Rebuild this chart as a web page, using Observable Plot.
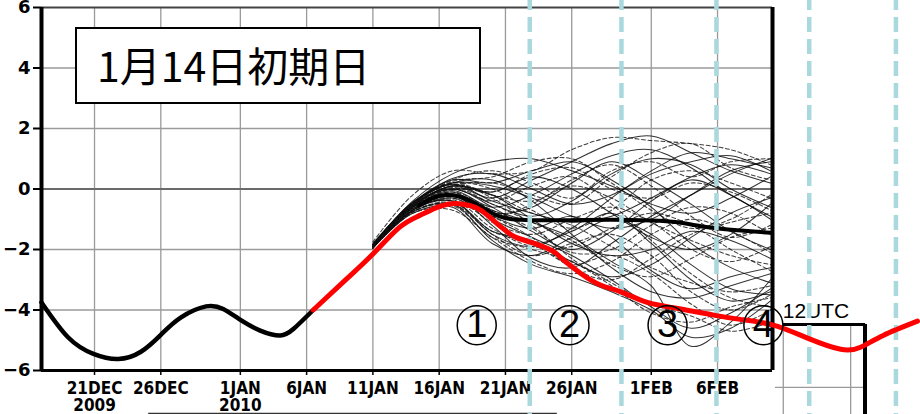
<!DOCTYPE html>
<html><head><meta charset="utf-8">
<script src="https://cdn.jsdelivr.net/npm/d3@7"></script>
<script src="https://cdn.jsdelivr.net/npm/@observablehq/plot@0.6"></script>
<style>
html,body{margin:0;padding:0;background:#fff;}
#wrap{position:relative;width:920px;height:414px;overflow:hidden;background:#fff;}
#wrap svg{position:absolute;left:0;top:0;}
#title{position:absolute;z-index:2;left:75px;top:27px;width:406px;height:77px;box-sizing:border-box;border:2px solid #000;background:#fff;
 font-family:"Noto Sans CJK JP","Noto Sans CJK SC",sans-serif;font-size:41px;line-height:71px;padding-left:20px;color:#000;white-space:nowrap;}
</style></head>
<body><div id="wrap"><div id="title">1月14日初期日</div></div>
<script>
// ---- data ----
const xTickDates = ["2009-12-21","2009-12-26","2010-01-01","2010-01-06","2010-01-11","2010-01-16","2010-01-21","2010-01-26","2010-02-01","2010-02-06"];
const xTickLabels = ["21DEC\n2009","26DEC","1JAN\n2010","6JAN","11JAN","16JAN","21JAN","26JAN","1FEB","6FEB"];
const yTicks = [-6,-4,-2,0,2,4,6];

const historyDates = ["2009-12-17T00:00","2009-12-19T00:00","2009-12-20T22:00","2009-12-22T19:00","2009-12-24T12:00","2009-12-26T00:00","2009-12-27T12:00","2009-12-29T10:00","2009-12-30T17:00","2009-12-31T22:00","2010-01-02T12:00","2010-01-04T00:00","2010-01-05T00:00","2010-01-06T12:00"];
const historyValues = [-3.75,-4.9,-5.45,-5.62,-5.38,-4.82,-4.25,-3.88,-3.97,-4.3,-4.68,-4.84,-4.63,-4.0];

const observedDates = ["2010-01-06T12:00","2010-01-09T00:00","2010-01-11T00:00","2010-01-13T00:00","2010-01-14T12:00","2010-01-16T00:00","2010-01-17T07:00","2010-01-18T07:00","2010-01-19T05:00","2010-01-20T17:00","2010-01-21T19:00","2010-01-23T00:00","2010-01-24T12:00","2010-01-25T05:00","2010-01-26T17:00","2010-01-28T05:00","2010-01-29T17:00","2010-01-31T17:00","2010-02-03T00:00","2010-02-05T17:00","2010-02-07T17:00","2010-02-10T05:00","2010-02-12T19:00","2010-02-15T07:00","2010-02-16T19:00","2010-02-18T12:00","2010-02-21T02:00"];
const observedValues = [-4.0,-2.98,-2.15,-1.27,-0.88,-0.58,-0.48,-0.55,-0.72,-1.27,-1.6,-1.77,-2.03,-2.28,-2.8,-3.18,-3.4,-3.75,-3.95,-4.17,-4.31,-4.5,-4.93,-5.3,-5.23,-4.84,-4.37];

const meanDates = ["2010-01-14T12:00","2010-01-15T12:00","2010-01-16T12:00","2010-01-17T12:00","2010-01-18T12:00","2010-01-19T12:00","2010-01-20T12:00","2010-01-21T12:00","2010-01-23","2010-01-26","2010-01-29","2010-02-01","2010-02-03","2010-02-05","2010-02-07","2010-02-10"];
const meanValues = [-0.55,-0.3,-0.2,-0.25,-0.42,-0.68,-0.9,-1.0,-1.03,-1.03,-1.02,-1.04,-1.1,-1.25,-1.35,-1.45];

const memberDates = ["2010-01-11","2010-01-14","2010-01-17","2010-01-20","2010-01-23","2010-01-26","2010-01-29","2010-02-01","2010-02-04","2010-02-07","2010-02-10"];
const membersSolid = [
 [-1.85,-0.40, 0.50, 0.90, 1.00, 0.60, 0.10,-0.50,-0.80,-0.30, 0.40],
 [-1.90,-0.60, 0.10,-0.30, 0.30, 0.90, 1.50, 1.75, 1.20, 0.60, 0.20],
 [-1.95,-0.70,-0.20,-1.20,-2.30,-2.60,-1.80,-0.90,-0.20, 0.50, 1.00],
 [-1.90,-0.50, 0.20, 0.30,-0.40,-1.50,-2.60,-3.40,-3.60,-3.20,-2.80],
 [-1.80,-0.45, 0.30, 0.20, 0.60, 0.90, 0.30,-0.60,-1.80,-2.60,-3.10],
 [-1.90,-0.65,-0.40,-1.50,-1.90,-1.30,-0.30, 0.60, 1.20, 1.00, 0.70],
 [-1.95,-0.75,-0.50,-1.70,-2.50,-2.90,-3.40,-4.00,-4.90,-4.60,-3.70],
 [-1.85,-0.50, 0.00,-0.50,-0.90,-0.40, 0.50, 1.00, 0.80, 0.00,-0.60],
 [-1.90,-0.55, 0.10,-0.20,-1.00,-1.80,-2.20,-2.00,-1.40,-1.70,-2.30],
 [-1.90,-0.60,-0.10,-0.80,-0.60, 0.20, 0.90, 0.30,-0.50,-1.40,-2.00],
 [-1.95,-0.70,-0.30,-1.00,-1.60,-2.20,-3.00,-3.90,-4.60,-4.10,-3.30],
 [-1.85,-0.45, 0.20, 0.10,-0.30,-0.90,-1.30,-1.00,-0.20, 0.60, 0.90],
 [-1.90,-0.60,-0.20,-0.90,-1.30,-0.90,-1.60,-2.70,-3.30,-2.90,-2.60],
 [-1.90,-0.55, 0.00,-0.60,-1.40,-2.00,-1.40,-0.40, 0.30,-0.20,-1.00],
 [-1.95,-0.80,-0.60,-1.80,-2.20,-1.60,-1.00,-1.50,-2.50,-3.30,-3.50],
 [-1.85,-0.50, 0.35, 0.50, 0.00,-0.50,-0.20, 0.50, 0.90, 1.10, 0.60],
 [-1.90,-0.60,-0.15,-0.70,-1.10,-1.60,-2.40,-3.20,-5.20,-4.40,-3.00],
 [-1.90,-0.55, 0.10,-0.10, 0.40, 0.00,-0.80,-1.60,-2.00,-1.50,-0.50],
 [-1.85,-0.45, 0.15,-0.40,-0.80,-1.10,-0.90,-0.30, 0.40, 0.80, 0.50],
 [-1.95,-0.70,-0.40,-1.40,-1.70,-2.40,-2.90,-2.50,-1.60,-0.80,-0.30],
 [-1.90,-0.60,-0.05,-0.60,-0.20, 0.50, 1.10, 1.30, 0.70,-0.20,-0.90],
 [-1.90,-0.65,-0.25,-1.00,-1.80,-1.40,-0.80,-1.80,-3.00,-3.70,-3.40]
];
const membersDashed = [
 [-1.75,-0.20, 0.60, 0.50, 0.60, 1.30, 1.70, 1.60, 1.50, 1.30, 0.80],
 [-1.85,-0.45, 0.20, 0.00,-0.70,-1.30,-0.70, 0.30, 0.60, 0.20,-0.30],
 [-1.95,-0.80,-0.70,-1.60,-2.40,-2.80,-2.40,-1.50,-1.00,-1.40,-2.10],
 [-1.90,-0.60, 0.00,-0.40, 0.10, 0.40,-0.50,-1.70,-2.80,-3.60,-3.90],
 [-1.85,-0.50, 0.15,-0.30,-1.20,-2.30,-3.10,-3.80,-4.20,-4.70,-4.40],
 [-1.90,-0.60,-0.20,-0.90,-0.50, 0.30, 0.80, 0.10,-0.90,-1.60,-1.20],
 [-1.95,-0.70,-0.35,-1.30,-1.90,-1.90,-1.30,-0.80,-1.20,-2.00,-2.70],
 [-1.85,-0.45, 0.25, 0.40, 0.90, 1.00, 0.20,-0.70,-1.30,-1.00,-0.20],
 [-1.90,-0.65,-0.30,-1.10,-1.50,-1.00,-0.60,-1.10,-2.00,-2.40,-1.90],
 [-1.90,-0.55, 0.05,-0.50,-1.10,-1.70,-2.50,-2.90,-2.30,-1.60,-1.30],
 [-1.95,-0.75,-0.55,-1.60,-2.00,-2.40,-3.20,-4.10,-4.40,-3.90,-3.60],
 [-1.85,-0.50, 0.10, 0.20,-0.20,-0.50, 0.40, 1.20, 1.50, 0.70, 0.30],
 [-1.90,-0.60,-0.10,-0.70,-1.30,-2.10,-2.00,-1.20,-0.60,-0.80,-1.50],
 [-1.90,-0.55, 0.00,-0.20,-0.80,-1.20,-1.90,-2.60,-3.10,-3.40,-3.20],
 [-1.85,-0.50, 0.20,-0.10, 0.50, 0.70, 0.00,-0.30, 0.20,-0.10,-0.70],
 [-1.95,-0.75,-0.45,-1.40,-1.80,-2.50,-2.20,-2.80,-3.80,-4.50,-4.00],
 [-1.85,-0.45, 0.15,-0.20,-0.40, 0.10,-0.30,-1.10,-1.70,-2.20,-2.50],
 [-1.90,-0.60,-0.20,-0.90,-1.60,-2.60,-3.00,-2.30,-1.50,-1.10,-0.80],
 [-1.85,-0.50, 0.30, 0.60, 0.20,-0.30, 0.60, 0.90, 0.40, 0.90, 1.00],
 [-1.95,-0.75,-0.50,-1.50,-2.20,-1.80,-1.50,-2.20,-3.40,-4.00,-3.50]
];

const periodLineDates = ["2010-01-22T20:00","2010-01-29T18:00","2010-02-05T22:00","2010-02-12T22:00","2010-02-19T11:00"];
const periodLabels = ["1","2","3","4"];
const periodLabelDates = ["2010-01-18T20:00","2010-01-25T20:00","2010-02-02T05:30","2010-02-09T11:00"];
const utcLabel = "12UTC";

// ---- build ----
const D = s => new Date(s);
const tickMap = new Map(xTickDates.map((d,i)=>[+D(d), xTickLabels[i]]));
const toRows = (dates, vals) => dates.map((d,i)=>({date:D(d), v:vals[i]}));
const memberRows = (list) => list.flatMap((vals,k)=>memberDates.map((d,i)=>({k, date:D(d), v:vals[i]})));
const solidRows = memberRows(membersSolid);
const dashedRows = memberRows(membersDashed);
const xStart = D("2009-12-17T00:00"), xEnd = D("2010-02-10T03:30");

const chart = Plot.plot({
  width: 920, height: 414,
  marginLeft: 41, marginRight: 148, marginTop: 7, marginBottom: 44,
  style: {background: "transparent", overflow: "visible"},
  x: {type: "utc", domain: [xStart, xEnd], axis: null},
  y: {domain: [-6, 6], axis: null},
  marks: [
    Plot.gridX(xTickDates.map(D), {stroke: "#9a9a9a", strokeOpacity: 1, strokeWidth: 1.3}),
    Plot.gridY([-4,-2,2,4], {stroke: "#9a9a9a", strokeOpacity: 1, strokeWidth: 1.3}),
    Plot.ruleY([0], {stroke: "#6a6a6a", strokeWidth: 2}),
    // partial neighbouring panel (bottom right / bottom)
    Plot.ruleX([D("2010-02-10T23:00"), D("2010-02-16T01:00")], {y1: -4.48, y2: -7.6, stroke: "#9a9a9a", strokeWidth: 1.3}),
    Plot.ruleY([-6.56], {x1: D("2010-02-10T09:00"), x2: D("2010-02-17T03:00"), stroke: "#9a9a9a", strokeWidth: 1.3}),
    Plot.ruleY([-4.48], {x1: D("2010-02-10T23:00"), x2: D("2010-02-17T04:00"), stroke: "#000", strokeWidth: 3}),
    Plot.ruleX([D("2010-02-17T03:00")], {y1: -4.48, y2: -7.6, stroke: "#000", strokeWidth: 4}),
    Plot.ruleY([-7.42], {x1: D("2009-12-25T02:00"), x2: D("2010-01-24T22:00"), stroke: "#333", strokeWidth: 1.5}),
    // ensemble members
    Plot.line(solidRows, {x: "date", y: "v", z: "k", stroke: "#000", strokeWidth: 1.05, strokeOpacity: 0.8, curve: "catmull-rom"}),
    Plot.line(dashedRows, {x: "date", y: "v", z: "k", stroke: "#111", strokeWidth: 1.05, strokeOpacity: 0.8, strokeDasharray: "4,2.5", curve: "catmull-rom"}),
    Plot.line(toRows(meanDates, meanValues), {x: "date", y: "v", stroke: "#000", strokeWidth: 4, curve: "natural"}),
    Plot.line(toRows(historyDates, historyValues), {x: "date", y: "v", stroke: "#000", strokeWidth: 4.5, curve: "natural"}),
    // frame
    Plot.ruleY([6], {stroke: "#444", strokeWidth: 2}),
    Plot.ruleY([-6], {stroke: "#000", strokeWidth: 3}),
    Plot.ruleX([xEnd], {stroke: "#000", strokeWidth: 4}),
    Plot.ruleX([xStart], {y1: -6, y2: 6, stroke: "#000", strokeWidth: 4}),
    Plot.axisY(yTicks, {anchor: "left", label: null, tickSize: 8, tickPadding: 3, strokeWidth: 2, stroke: "#000", fontSize: 18, fontFamily: "DejaVu Sans", fontWeight: "bold", fill: "#000",
      tickFormat: d => d < 0 ? "\u2212" + (-d) : String(d)}),
    Plot.axisX(xTickDates.map(D), {anchor: "bottom", label: null, tickSize: 5, tickPadding: 6, strokeWidth: 1.5, stroke: "#000", fontSize: 17, lineHeight: 1,
      fontFamily: "'Liberation Sans Narrow', 'DejaVu Sans Condensed', sans-serif", fontWeight: "bold", fill: "#000", tickFormat: d => tickMap.get(+d)}),
    Plot.text([utcLabel], {x: D("2010-02-10T22:00"), y: -4.03, text: d => d, textAnchor: "start", fontSize: 21, fontFamily: "Liberation Sans", fill: "#000"}),
    // forecast period separators
    Plot.ruleX(periodLineDates.map(D), {y1: 6.4, y2: -7.6, stroke: "#aad9dd", strokeWidth: 4.5, strokeDasharray: "15,7"}),
    // observed
    Plot.line(toRows(observedDates, observedValues), {x: "date", y: "v", stroke: "#ff0000", strokeWidth: 5, curve: "natural"}),
    // period labels
    Plot.dot(periodLabelDates.map(D), {x: d => d, y: -4.5, r: 19.5, stroke: "#000", strokeWidth: 1.5, fill: "none"}),
    Plot.text(periodLabelDates.map((d,i)=>({date:D(d), t:periodLabels[i]})), {x: "date", y: -4.5, text: "t", fontSize: 38, fontFamily: "Liberation Sans", fill: "#000"})
  ]
});
document.getElementById("wrap").insertBefore(chart, document.getElementById("title"));
</script>
</body></html>
